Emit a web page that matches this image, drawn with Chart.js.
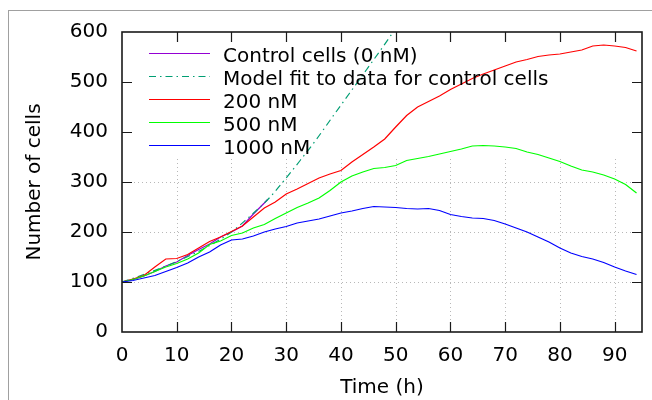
<!DOCTYPE html>
<html>
<head>
<meta charset="utf-8">
<script src="https://cdn.jsdelivr.net/npm/chart.js@4/dist/chart.umd.min.js"></script>
<style>
  html, body { margin: 0; padding: 0; background: #fff; overflow: hidden; }
  #wrap { position: relative; width: 652px; height: 400px; }
  #outer { position: absolute; left: 8px; top: 10px; width: 720px; height: 480px; border: 1px solid #a0a0a0; }
  canvas { position: absolute; left: 0; top: 0; }
</style>
</head>
<body>
<div id="wrap">
  <div id="outer"></div>
  <canvas id="cells" width="652" height="400"></canvas>
</div>
<script>
// time axis (h) for the drug-treated runs
const hours = [0, 2, 4, 6, 8, 10, 12, 14, 16, 18, 20, 22, 24, 26, 28, 30, 32, 34, 36, 38,
  40, 42, 44, 46, 48, 50, 52, 54, 56, 58, 60, 62, 64, 66, 68, 70, 72, 74, 76, 78,
  80, 82, 84, 86, 88, 90, 92, 94];

const cells200 = [100, 106, 113, 130, 146, 147, 155, 168, 181, 190, 201, 212, 230, 248, 260, 276, 286, 297, 308, 316,
  323, 340, 355, 370, 386, 410, 433, 450, 461, 472, 485, 496, 507, 516, 524, 532, 540, 545, 551, 554,
  556, 560, 564, 572, 574, 572, 569, 562];
const cells500 = [100, 105, 112, 121, 130, 137, 146, 158, 175, 182, 193, 198, 208, 215, 227, 238, 249, 258, 268, 283,
  300, 312, 320, 327, 329, 333, 343, 347, 351, 356, 361, 366, 372, 373, 372, 370, 367, 360, 355, 348,
  341, 332, 324, 320, 314, 306, 295, 278];
const cells1000 = [100, 103, 108, 113, 121, 129, 138, 150, 160, 174, 184, 186, 192, 200, 206, 211, 218, 222, 226, 232,
  238, 242, 247, 251, 250, 249, 247, 246, 247, 243, 235, 231, 228, 227, 223, 216, 208, 200, 190, 180,
  168, 158, 151, 146, 139, 130, 122, 115];

// control run stops early
const controlHours = [0, 2, 4, 6, 8, 10, 12, 14, 16, 18, 20, 22, 24, 26, 26.6];
const controlCells = [100, 105, 112, 121, 132, 140, 153, 165, 176, 190, 200, 212, 236, 258, 265];

// model fit curve
const modelHours = [0, 5, 10, 15, 20, 22.7, 26.9, 29.4, 32.4, 35.5, 38.5, 41.6, 44.7, 47.7, 50.5];
const modelCells = [100, 119, 141, 167, 200, 225, 268, 300, 341, 385, 431, 478, 525, 571, 615];

const xTicks = [0, 10, 20, 30, 40, 50, 60, 70, 80, 90];
const yTicks = [0, 100, 200, 300, 400, 500, 600];

const FONT = "'DejaVu Sans', sans-serif";

function pts(xs, ys) {
  return xs.map((x, i) => ({x: x, y: ys[i]}));
}

// gnuplot-ish frame: dotted grid under the data, box + inward ticks + key on top
const gnuFrame = {
  id: 'gnuFrame',
  beforeDatasetsDraw(chart) {
    const {ctx, chartArea: a, scales: {x, y}} = chart;
    ctx.save();
    ctx.strokeStyle = '#b8b8b8';
    ctx.lineWidth = 1;
    ctx.setLineDash([1, 3]);
    const gridTop = y.getPixelForValue(352);
    xTicks.slice(1).forEach((t) => {
      const px = Math.round(x.getPixelForValue(t)) + 0.5;
      ctx.beginPath(); ctx.moveTo(px, a.bottom); ctx.lineTo(px, gridTop); ctx.stroke();
    });
    [100, 200, 300].forEach((v) => {
      const py = Math.round(y.getPixelForValue(v)) + 0.5;
      ctx.beginPath(); ctx.moveTo(a.left, py); ctx.lineTo(a.right, py); ctx.stroke();
    });
    ctx.restore();
  },
  afterDatasetsDraw(chart) {
    const {ctx, chartArea: a, scales: {x, y}} = chart;
    ctx.save();
    ctx.strokeStyle = '#1a1a1a';
    ctx.lineWidth = 1.6;
    ctx.strokeRect(a.left, a.top, a.right - a.left, a.bottom - a.top);
    ctx.lineWidth = 1.2;
    const tl = 10;
    xTicks.slice(1).forEach((t) => {
      const px = Math.round(x.getPixelForValue(t)) + 0.5;
      ctx.beginPath();
      ctx.moveTo(px, a.bottom); ctx.lineTo(px, a.bottom - tl);
      ctx.moveTo(px, a.top); ctx.lineTo(px, a.top + tl);
      ctx.stroke();
    });
    yTicks.slice(1, -1).forEach((v) => {
      const py = Math.round(y.getPixelForValue(v)) + 0.5;
      ctx.beginPath();
      ctx.moveTo(a.left, py); ctx.lineTo(a.left + tl, py);
      ctx.moveTo(a.right, py); ctx.lineTo(a.right - tl, py);
      ctx.stroke();
    });

    // key
    ctx.font = '20px ' + FONT;
    ctx.textBaseline = 'alphabetic';
    ctx.textAlign = 'left';
    chart.data.datasets.forEach((ds, i) => {
      const ly = 53.5 + i * 23;
      ctx.strokeStyle = ds.borderColor;
      ctx.lineWidth = 1.2;
      ctx.setLineDash(ds.borderDash || []);
      ctx.beginPath(); ctx.moveTo(149, ly); ctx.lineTo(210, ly); ctx.stroke();
      ctx.setLineDash([]);
      ctx.fillStyle = '#000';
      ctx.fillText(ds.label, 223, ly + 8.2);
    });
    ctx.restore();
  }
};

new Chart(document.getElementById('cells'), {
  type: 'line',
  data: {
    datasets: [
      {label: 'Control cells (0 nM)', data: pts(controlHours, controlCells), borderColor: '#9400d3', order: 4},
      {label: 'Model fit to data for control cells', data: pts(modelHours, modelCells), borderColor: '#009e73',
        borderDash: [7, 4, 1.5, 4], tension: 0.4, cubicInterpolationMode: 'monotone', order: 3},
      {label: '200 nM', data: pts(hours, cells200), borderColor: '#ff0000', order: 2},
      {label: '500 nM', data: pts(hours, cells500), borderColor: '#00ff00', order: 1},
      {label: '1000 nM', data: pts(hours, cells1000), borderColor: '#0000ff', order: 0}
    ]
  },
  options: {
    responsive: false,
    animation: false,
    events: [],
    layout: {padding: {top: 32, right: 10, left: 0, bottom: 0}},
    elements: {
      point: {radius: 0},
      line: {borderWidth: 1.2, fill: false}
    },
    plugins: {
      legend: {display: false},
      tooltip: {enabled: false}
    },
    scales: {
      x: {
        type: 'linear',
        min: 0,
        max: 95,
        afterBuildTicks: (s) => { s.ticks = xTicks.map((v) => ({value: v})); },
        afterFit: (s) => { s.height = 68; },
        grid: {display: false, drawTicks: false},
        border: {display: false},
        ticks: {color: '#000', font: {family: FONT, size: 20}, padding: 12, maxRotation: 0, autoSkip: false},
        title: {display: true, text: 'Time (h)', color: '#000', font: {family: FONT, size: 20}, padding: {top: 0, bottom: 0}}
      },
      y: {
        type: 'linear',
        min: 0,
        max: 600,
        afterBuildTicks: (s) => { s.ticks = yTicks.map((v) => ({value: v})); },
        afterFit: (s) => { s.width = 122; },
        grid: {display: false, drawTicks: false},
        border: {display: false},
        ticks: {color: '#000', font: {family: FONT, size: 20}, padding: 14, autoSkip: false},
        title: {display: true, text: 'Number of cells', color: '#000', font: {family: FONT, size: 20}, padding: {top: 23, bottom: 0}}
      }
    }
  },
  plugins: [gnuFrame]
});
</script>
</body>
</html>
